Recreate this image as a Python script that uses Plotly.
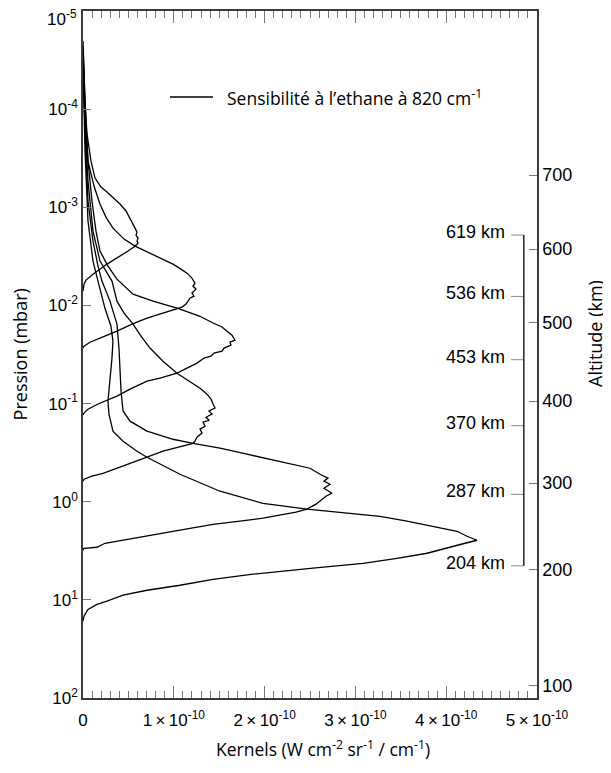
import numpy as np
import plotly.graph_objects as go

# Kernels for ethane at 820 cm-1, peaks labelled by altitude (km)
# pressures in mbar, kernel values in units of 1e-10 W cm-2 sr-1 / cm-1
km_labels = [619, 536, 453, 370, 287, 204]

p_619 = [2.02e-5, 4.09e-5, 8.26e-5, 1.79e-4, 3.38e-4, 5.04e-4, 6.22e-4, 7.00e-4, 8.05e-4, 9.27e-4,
         1.09e-3, 1.29e-3, 1.45e-3, 1.63e-3, 1.79e-3, 1.92e-3, 2.06e-3, 2.21e-3, 2.32e-3, 2.49e-3,
         2.79e-3, 3.14e-3, 3.79e-3, 4.80e-3, 5.52e-3, 6.07e-3, 7.15e-3]
k_619 = [0.0, 0.011, 0.022, 0.044, 0.088, 0.132, 0.198, 0.264, 0.341, 0.407,
         0.474, 0.518, 0.551, 0.573, 0.595, 0.584, 0.606, 0.595, 0.606, 0.573,
         0.496, 0.407, 0.264, 0.110, 0.033, 0.011, 0.0]

p_536 = [2.28e-5, 8.26e-5, 3.38e-4, 6.08e-4, 9.27e-4, 1.26e-3, 1.63e-3, 2.11e-3, 2.49e-3, 2.79e-3,
         3.00e-3, 3.37e-3, 3.79e-3, 4.27e-3, 4.69e-3, 5.27e-3, 5.93e-3, 6.35e-3, 6.82e-3, 7.50e-3,
         8.04e-3, 8.43e-3, 9.04e-3, 9.70e-3, 1.04e-2, 1.07e-2, 1.20e-2, 1.35e-2, 1.55e-2, 1.83e-2,
         2.15e-2, 2.37e-2, 2.60e-2, 2.72e-2]
k_536 = [0.0, 0.022, 0.055, 0.121, 0.187, 0.253, 0.330, 0.452, 0.573, 0.683,
         0.771, 0.881, 0.991, 1.079, 1.145, 1.200, 1.233, 1.211, 1.244, 1.200,
         1.222, 1.178, 1.156, 1.134, 1.090, 1.046, 0.881, 0.705, 0.540, 0.374,
         0.187, 0.077, 0.011, 0.0]

p_453 = [2.56e-5, 1.04e-4, 3.38e-4, 8.65e-4, 1.75e-3, 2.79e-3, 3.97e-3, 5.40e-3, 7.67e-3, 9.04e-3,
         1.07e-2, 1.29e-2, 1.51e-2, 1.66e-2, 1.83e-2, 2.01e-2, 2.26e-2, 2.37e-2, 2.54e-2, 2.72e-2,
         2.92e-2, 3.06e-2, 3.29e-2, 3.44e-2, 3.87e-2, 4.35e-2, 4.90e-2, 5.51e-2, 5.91e-2, 7.13e-2,
         8.41e-2, 1.01e-1, 1.14e-1, 1.25e-1, 1.31e-1]
k_453 = [0.0, 0.022, 0.055, 0.099, 0.143, 0.187, 0.275, 0.374, 0.551, 0.771,
         1.046, 1.289, 1.432, 1.531, 1.586, 1.641, 1.674, 1.619, 1.630, 1.553,
         1.531, 1.443, 1.410, 1.333, 1.256, 1.145, 1.035, 0.848, 0.705, 0.518,
         0.374, 0.165, 0.055, 0.011, 0.0]

p_370 = [2.88e-5, 1.32e-4, 5.41e-4, 1.75e-3, 3.53e-3, 5.65e-3, 9.04e-3, 1.20e-2, 1.55e-2, 2.06e-2,
         2.72e-2, 3.70e-2, 4.90e-2, 5.91e-2, 6.97e-2, 8.02e-2, 9.02e-2, 1.01e-1, 1.11e-1, 1.19e-1,
         1.28e-1, 1.38e-1, 1.48e-1, 1.55e-1, 1.70e-1, 1.82e-1, 2.00e-1, 2.20e-1, 2.42e-1, 2.54e-1,
         2.79e-1, 3.06e-1, 3.52e-1, 4.06e-1, 4.56e-1, 5.13e-1, 5.50e-1, 5.90e-1, 6.18e-1]
k_370 = [0.0, 0.022, 0.055, 0.110, 0.187, 0.319, 0.374, 0.452, 0.551, 0.639,
         0.738, 0.881, 1.035, 1.178, 1.289, 1.366, 1.410, 1.432, 1.454, 1.388,
         1.421, 1.355, 1.388, 1.322, 1.344, 1.289, 1.311, 1.256, 1.233, 1.211,
         1.046, 0.881, 0.705, 0.518, 0.352, 0.220, 0.099, 0.011, 0.0]

p_287 = [3.08e-5, 1.67e-4, 8.65e-4, 2.21e-3, 3.97e-3, 5.65e-3, 9.04e-3, 1.55e-2, 2.72e-2, 5.01e-2,
         7.48e-2, 1.19e-1, 1.51e-1, 1.91e-1, 2.31e-1, 2.54e-1, 2.85e-1, 3.28e-1, 3.69e-1, 4.15e-1,
         4.56e-1, 5.25e-1, 5.75e-1, 6.18e-1, 6.64e-1, 7.28e-1, 8.19e-1, 8.79e-1, 9.89e-1, 1.06,
         1.14, 1.19, 1.28, 1.37, 1.47, 1.58, 1.70, 1.87, 2.00, 2.25,
         2.47, 2.65, 2.91, 2.98, 3.12]
k_287 = [0.0, 0.022, 0.055, 0.110, 0.165, 0.209, 0.297, 0.374, 0.396, 0.407,
         0.419, 0.441, 0.518, 0.705, 0.991, 1.211, 1.509, 1.806, 2.059, 2.313,
         2.500, 2.610, 2.698, 2.654, 2.720, 2.654, 2.742, 2.676, 2.610, 2.566,
         2.500, 2.467, 2.346, 2.170, 1.982, 1.729, 1.432, 1.178, 0.991, 0.705,
         0.407, 0.242, 0.154, 0.011, 0.0]

p_204 = [3.24e-5, 2.67e-4, 1.38e-3, 3.53e-3, 5.65e-3, 1.07e-2, 1.63e-2, 2.31e-2, 3.44e-2, 5.91e-2,
         9.46e-2, 1.28e-1, 1.91e-1, 2.42e-1, 3.06e-1, 3.52e-1, 5.25e-1, 7.82e-1, 1.04, 1.19,
         1.31, 1.41, 1.58, 1.86, 2.00, 2.25, 2.47, 2.65, 2.84, 3.35,
         3.77, 4.24, 4.76, 5.11, 5.48, 6.17, 7.10, 7.98, 8.97, 10.3,
         11.1, 12.5, 14.7, 16.5]
k_204 = [0.0, 0.022, 0.055, 0.110, 0.165, 0.242, 0.308, 0.330, 0.319, 0.297,
         0.275, 0.286, 0.330, 0.441, 0.595, 0.705, 1.068, 1.509, 1.982, 2.467,
         2.907, 3.271, 3.568, 3.932, 4.119, 4.229, 4.339, 4.207, 4.075, 3.789,
         3.458, 3.084, 2.533, 2.170, 1.872, 1.432, 1.068, 0.705, 0.441, 0.264,
         0.154, 0.055, 0.011, 0.0]

curves = [(p_619, k_619), (p_536, k_536), (p_453, k_453),
          (p_370, k_370), (p_287, k_287), (p_204, k_204)]

# right axis: altitude (km) and the pressure it sits at
alt_km = [100, 200, 300, 400, 500, 600, 700]
alt_pressure = [74.3, 4.88, 0.647, 0.0944, 0.0151, 2.67e-3, 4.70e-4]

# the top label (1e-5) is drawn as an annotation so it is not clipped
p_ticks = [1e-5, 1e-4, 1e-3, 1e-2, 1e-1, 1e0, 1e1, 1e2]
p_ticktext = ["", "10<sup>-4</sup>", "10<sup>-3</sup>", "10<sup>-2</sup>",
              "10<sup>-1</sup>", "10<sup>0</sup>", "10<sup>1</sup>", "10<sup>2</sup>"]
p_top_label = "10<sup>-5</sup>"
x_ticks = [0, 1, 2, 3, 4, 5]
x_ticktext = ["0", "1\u2009×\u200910<sup>-10</sup>", "2\u2009×\u200910<sup>-10</sup>",
              "3\u2009×\u200910<sup>-10</sup>", "4\u2009×\u200910<sup>-10</sup>",
              "5\u2009×\u200910<sup>-10</sup>"]

legend_text = "Sensibilité à l’ethane à 820 cm<sup>-1</sup>"

HELV = "Liberation Sans, Arial, sans-serif"
MYRIAD = "Open Sans, sans-serif"
AXIS_COLOR = "#3a3a3a"
TICK_COLOR = "#777777"

fig = go.Figure()
for p, k in curves:
    fig.add_trace(go.Scatter(x=k, y=p, mode="lines", showlegend=False,
                             line=dict(color="black", width=1.3)))

# dummy trace so the altitude axis gets drawn
fig.add_trace(go.Scatter(x=[0], y=[1], yaxis="y2", mode="markers", showlegend=False,
                         marker=dict(opacity=0), hoverinfo="skip"))


def pfrac(logp):
    # paper y fraction of a log10 pressure (1e2 at bottom, 1e-5 at top)
    return (2 - logp) / 7


# km labels with bracket on the right
log_alt_p = np.log10(alt_pressure)
label_y = [pfrac(np.interp(km, alt_km, log_alt_p)) for km in km_labels]
for km, yy in zip(km_labels, label_y):
    fig.add_annotation(x=0.934, y=yy, xref="paper", yref="paper", text=f"{km} km",
                       showarrow=False, xanchor="right", yanchor="middle", yshift=3,
                       font=dict(family=HELV, size=18, color="black"))
    fig.add_shape(type="line", xref="paper", yref="paper", x0=0.943, x1=0.971, y0=yy, y1=yy,
                  line=dict(color="#888888", width=1))
fig.add_shape(type="line", xref="paper", yref="paper", x0=0.971, x1=0.971,
              y0=label_y[0], y1=label_y[-1], line=dict(color="black", width=1.3))

# legend drawn by hand
fig.add_shape(type="line", xref="paper", yref="paper", x0=0.1916, x1=0.2863, y0=0.8748, y1=0.8748,
              line=dict(color="black", width=1.3))
fig.add_annotation(x=0.3128, y=0.8748, xref="paper", yref="paper", text=legend_text,
                   showarrow=False, xanchor="left", yanchor="middle",
                   font=dict(family=MYRIAD, size=17.5, color="black"))

# top pressure label
fig.add_annotation(x=-0.009, y=1, xref="paper", yref="paper", text=p_top_label,
                   showarrow=False, xanchor="right", yanchor="middle", yshift=-7,
                   font=dict(family=HELV, size=17, color="black"))

# axis titles
fig.add_annotation(x=0.529, y=-0.074, xref="paper", yref="paper",
                   text="Kernels (W cm<sup>-2</sup> sr<sup>-1</sup> / cm<sup>-1</sup>)",
                   showarrow=False, xanchor="center", yanchor="middle",
                   font=dict(family=MYRIAD, size=17.5, color="black"))
fig.add_annotation(x=-0.139, y=0.5, xref="paper", yref="paper", text="Pression (mbar)",
                   showarrow=False, textangle=-90, xanchor="center", yanchor="middle",
                   font=dict(family=MYRIAD, size=18, color="black"))
fig.add_annotation(x=1.128, y=0.53, xref="paper", yref="paper", text="Altitude (km)",
                   showarrow=False, textangle=-90, xanchor="center", yanchor="middle",
                   font=dict(family=MYRIAD, size=18, color="black"))

# page body adds an 8px offset, margins compensate for it
fig.update_layout(
    width=611, height=773,
    margin=dict(l=75, r=82, t=3, b=83),
    plot_bgcolor="white", paper_bgcolor="white",
    showlegend=False,
    xaxis=dict(range=[0, 5], tickmode="array", tickvals=x_ticks, ticktext=x_ticktext,
               ticks="inside", ticklen=12, tickcolor=TICK_COLOR, tickwidth=1,
               showline=True, linecolor=AXIS_COLOR, linewidth=1.5, mirror="ticks",
               showgrid=False, zeroline=False, ticklabelstandoff=6, automargin=False,
               tickfont=dict(family=HELV, size=17, color="black"),
               minor=dict(tickmode="linear", dtick=0.1, tick0=0, ticks="inside", ticklen=7,
                          tickcolor=TICK_COLOR, tickwidth=1, showgrid=False)),
    yaxis=dict(type="log", range=[2, -5], tickmode="array", tickvals=p_ticks, ticktext=p_ticktext,
               ticks="inside", ticklen=8, tickcolor=TICK_COLOR, tickwidth=1,
               showline=True, linecolor=AXIS_COLOR, linewidth=1.5, automargin=False,
               showgrid=False, zeroline=False, ticklabeloverflow="allow",
               tickfont=dict(family=HELV, size=17, color="black")),
    yaxis2=dict(type="log", range=[2, -5], overlaying="y", side="right", tickmode="array",
                tickvals=alt_pressure, ticktext=[str(a) for a in alt_km],
                ticks="inside", ticklen=8, tickcolor=TICK_COLOR, tickwidth=1,
                showline=True, linecolor=AXIS_COLOR, linewidth=1.5, automargin=False,
                showgrid=False, zeroline=False,
                tickfont=dict(family=HELV, size=18, color="black")),
)

fig.write_html("out.html")
